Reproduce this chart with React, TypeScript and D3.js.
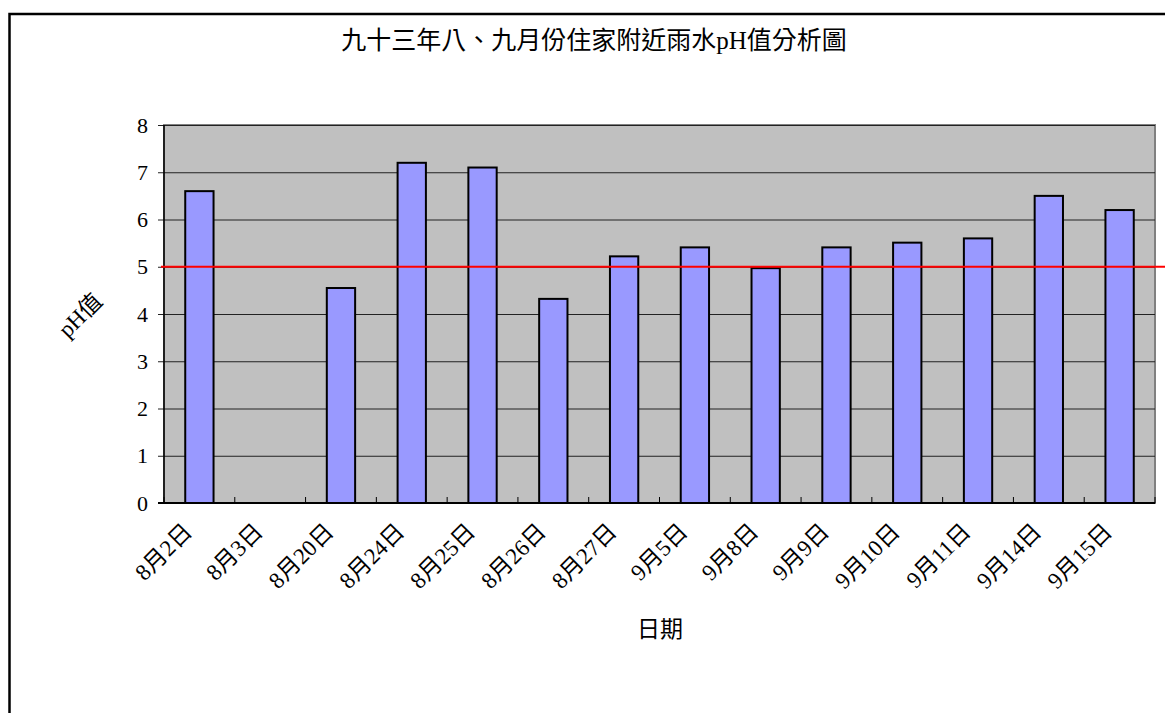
import * as d3 from "d3";
import { useEffect, useRef } from "react";

const dates = [
  "8月2日", "8月3日", "8月20日", "8月24日", "8月25日", "8月26日", "8月27日",
  "9月5日", "9月8日", "9月9日", "9月10日", "9月11日", "9月14日", "9月15日",
];
// 8月3日 has no reading
const phValues: (number | null)[] = [
  6.6, null, 4.55, 7.2, 7.1, 4.32, 5.22, 5.41, 4.97, 5.41, 5.51, 5.6, 6.5, 6.2,
];
const yTicks = [0, 1, 2, 3, 4, 5, 6, 7, 8];
const acidLine = 5;

const title = "九十三年八、九月份住家附近雨水pH值分析圖";
const xTitle = "日期";
const yTitle = "pH值";

const W = 1165;
const H = 713;
const FONT = '"Liberation Serif", "Noto Sans CJK TC", serif';

export default function App() {
  const ref = useRef<SVGSVGElement | null>(null);

  useEffect(() => {
    if (!ref.current) return;
    const svg = d3.select(ref.current);
    svg.selectAll("*").remove();

    const left = 164;
    const right = 1155;
    const top = 125;
    const bottom = 503;

    const x = d3.scaleBand<string>().domain(dates).range([left, right]).paddingInner(0.6).paddingOuter(0.3);
    const y = d3.scaleLinear().domain([0, 8]).range([bottom, top]);

    // outer chart frame
    svg.append("rect")
      .attr("x", 9.5).attr("y", 14)
      .attr("width", W + 20).attr("height", H + 20)
      .attr("fill", "#fff").attr("stroke", "#000").attr("stroke-width", 2.5);

    // plot area
    svg.append("rect")
      .attr("x", left).attr("y", top)
      .attr("width", right - left).attr("height", bottom - top)
      .attr("fill", "#c0c0c0").attr("stroke", "#808080").attr("stroke-width", 2);

    // gridlines + y ticks
    svg.append("g").selectAll("line").data(yTicks.filter((t) => t > 0)).enter().append("line")
      .attr("x1", left - 6).attr("x2", right)
      .attr("y1", (d) => y(d) + 0.5).attr("y2", (d) => y(d) + 0.5)
      .attr("stroke", "#222").attr("stroke-width", 1);

    svg.append("g").selectAll("text").data(yTicks).enter().append("text")
      .attr("x", left - 16).attr("y", (d) => y(d))
      .attr("dy", "0.35em").attr("text-anchor", "end")
      .style("font-family", FONT).style("font-size", "22px").style("fill", "#000")
      .text((d) => d);

    // axis lines
    svg.append("line").attr("x1", left).attr("x2", left).attr("y1", top).attr("y2", bottom)
      .attr("stroke", "#000").attr("stroke-width", 1.5);
    svg.append("line").attr("x1", left - 6).attr("x2", right).attr("y1", bottom).attr("y2", bottom)
      .attr("stroke", "#000").attr("stroke-width", 2);

    // x ticks between categories (pointing in)
    const bounds = d3.range(dates.length + 1).map((i) => left + i * x.step());
    svg.append("g").selectAll("line").data(bounds).enter().append("line")
      .attr("x1", (d) => d).attr("x2", (d) => d)
      .attr("y1", bottom).attr("y2", bottom - 6)
      .attr("stroke", "#000").attr("stroke-width", 1);

    // bars
    const rows = dates.map((d, i) => ({ date: d, v: phValues[i] })).filter((r) => r.v !== null);
    svg.append("g").selectAll("rect").data(rows).enter().append("rect")
      .attr("x", (d) => x(d.date) as number)
      .attr("y", (d) => y(d.v as number))
      .attr("width", x.bandwidth())
      .attr("height", (d) => bottom - y(d.v as number))
      .attr("fill", "#9999ff").attr("stroke", "#000").attr("stroke-width", 2);

    // pH 5 reference line
    svg.append("line")
      .attr("x1", left - 3).attr("x2", W)
      .attr("y1", y(acidLine)).attr("y2", y(acidLine))
      .attr("stroke", "#ff0000").attr("stroke-width", 2);

    // x labels
    svg.append("g").selectAll("text").data(dates).enter().append("text")
      .attr("transform", (d) => `translate(${(x(d) as number) + x.bandwidth() / 2 - 6},${bottom + 30}) rotate(-45)`)
      .attr("text-anchor", "end")
      .style("font-family", FONT).style("font-size", "23px").style("fill", "#000")
      .text((d) => d);

    // titles
    svg.append("text")
      .attr("x", 594).attr("y", 49).attr("text-anchor", "middle")
      .style("font-family", FONT).style("font-size", "25px").style("fill", "#000")
      .text(title);

    svg.append("text")
      .attr("x", 660).attr("y", 637).attr("text-anchor", "middle")
      .style("font-family", FONT).style("font-size", "23px").style("fill", "#000")
      .text(xTitle);

    svg.append("text")
      .attr("transform", "translate(80,315) rotate(-45)")
      .attr("dy", "0.35em").attr("text-anchor", "middle")
      .style("font-family", FONT).style("font-size", "23px").style("fill", "#000")
      .text(yTitle);
  }, []);

  return (
    <svg
      ref={ref}
      width={W}
      height={H}
      style={{ position: "fixed", left: 0, top: 0, display: "block", background: "#fff" }}
    />
  );
}
